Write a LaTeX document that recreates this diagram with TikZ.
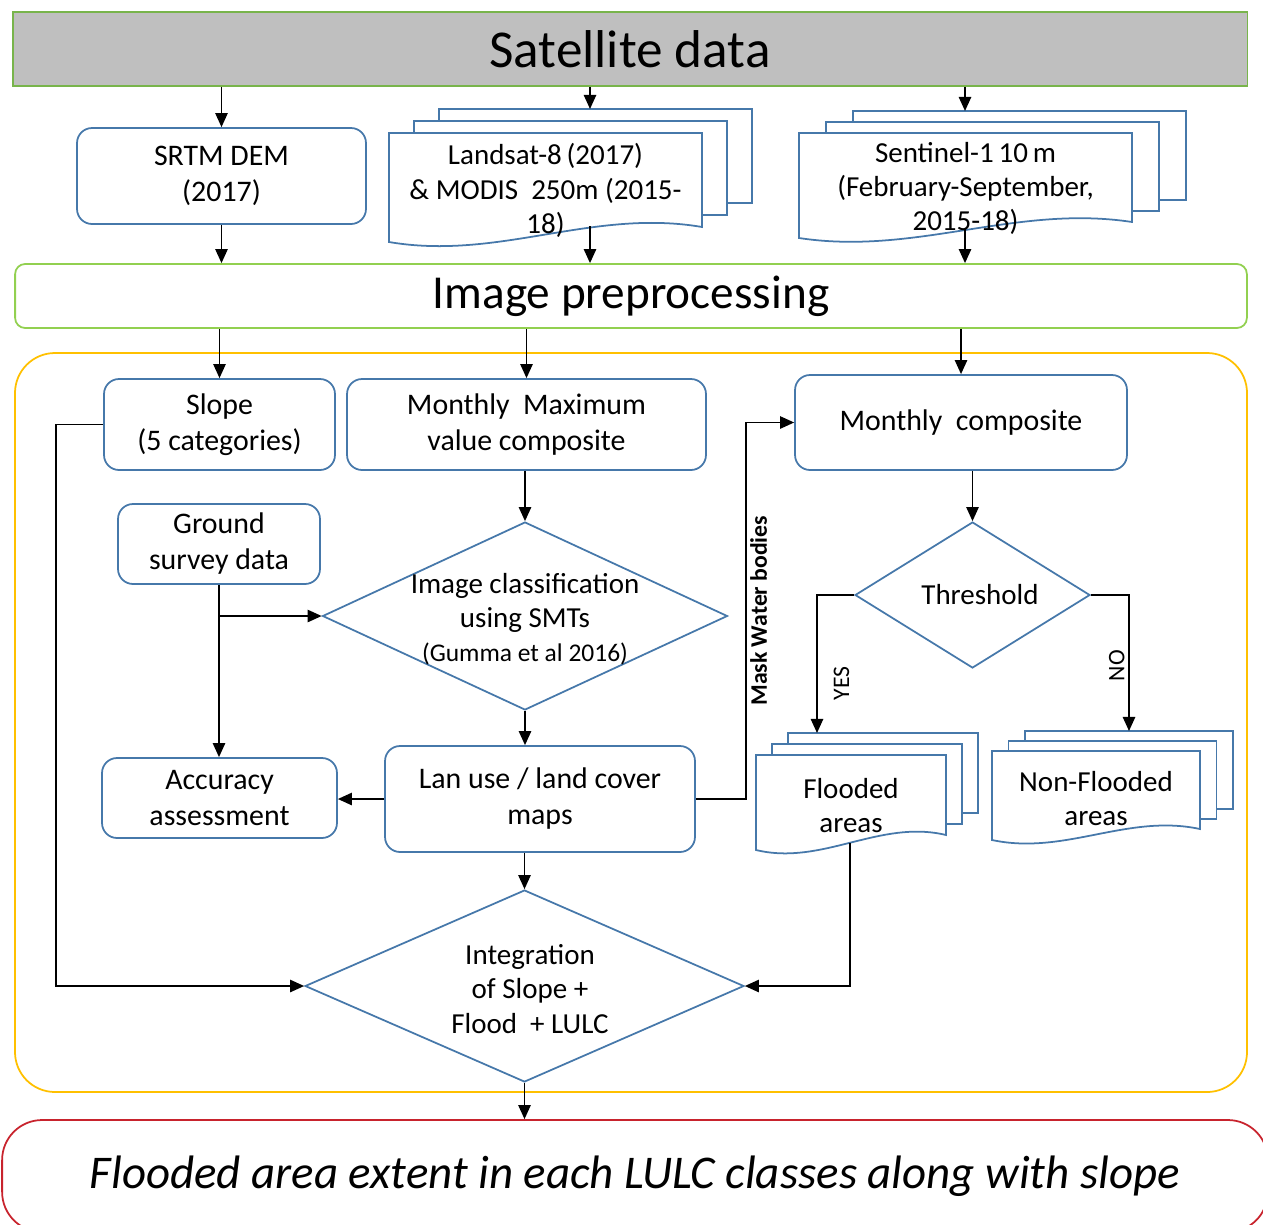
\documentclass[tikz,border=0pt]{standalone}
\usepackage{fontspec}
\setmainfont{Carlito}
\usetikzlibrary{positioning,shapes.geometric,arrows.meta,calc}

\definecolor{boxblue}{RGB}{70,120,170}
\definecolor{satgreen}{RGB}{120,180,75}
\definecolor{satgray}{RGB}{191,191,191}
\definecolor{prepgreen}{RGB}{146,208,80}
\definecolor{frameyellow}{RGB}{255,192,0}
\definecolor{finalred}{RGB}{200,35,45}

% stack of three sheets: name, x1, y1, x2, y2 (right bottom), drop, dx, dy, text
\newcommand{\docstack}[9]{%
  \draw[sheet] ({#2+2*#7},{#3+2*#8}) rectangle ({#4+2*#7},{#5+2*#8});
  \draw[sheet] ({#2+#7},{#3+#8}) rectangle ({#4+#7},{#5+#8});
  \draw[sheet] (#2,#3) -- (#4,#3) -- (#4,#5)
    .. controls ({#4-0.35*(#4-#2)},{#5-0.2*(#5-#3)}) and ({#2+0.35*(#4-#2)},{#5+#6+0.2*(#5-#3)}) .. (#2,{#5+#6}) -- cycle;
  \node[doctext] (#1) at ({(#2+#4)/2},{(#3+#5+#6)/2+3}) {#9};
}

\begin{document}
\begin{tikzpicture}[
    x=0.02cm, y=-0.02cm,
    line width=1pt,
    satbox/.style={rectangle, draw=satgreen, fill=satgray, minimum width=24.7cm, minimum height=1.48cm, font=\fontsize{30.3}{35}\selectfont},
    prepbox/.style={rectangle, draw=prepgreen, rounded corners=0.2cm, minimum width=24.64cm, minimum height=1.28cm, font=\fontsize{26.9}{31}\selectfont},
    blkbox/.style={rectangle, draw=boxblue, rounded corners=0.3cm, align=center, inner sep=0pt, font=\fontsize{17}{20.5}\selectfont},
    decision/.style={diamond, draw=boxblue, inner sep=0pt},
    dectext/.style={align=center, font=\fontsize{16.5}{19.5}\selectfont},
    sheet/.style={draw=boxblue, fill=white},
    doctext/.style={align=center, font=\fontsize{16.5}{19.5}\selectfont},
    finalbox/.style={rectangle, draw=finalred, rounded corners=0.8cm, minimum width=25.32cm, minimum height=2.24cm, font=\fontsize{26.7}{31}\selectfont\itshape},
    lbl/.style={font=\fontsize{13.5}{16}\selectfont},
    arrow/.style={-{Triangle[length=8pt,width=7pt]}, black}
]
    \useasboundingbox (0,0) rectangle (1263,1224);

    % sources
    \node[satbox] (sat) at (630,49) {Satellite data};
    \node[blkbox, minimum width=5.78cm, minimum height=1.92cm] (srtm) at (221.5,176) {SRTM DEM\\(2017)};
    \docstack{landsat}{389}{133}{702}{227}{15}{25}{-12}{Landsat-8\,(2017)\\\& MODIS~~250m (2015-\\18)}
    \docstack{sentinel}{799}{133}{1132}{222}{16}{27}{-11}{Sentinel-1\,10\,m\\(February-September,\\2015-18)}
    \coordinate (landsat-in) at (590,109);
    \coordinate (landsat-out) at (590,226);
    \coordinate (sentinel-in) at (965,111);
    \coordinate (sentinel-out) at (965,229);

    \node[prepbox] (prep) at (631,296) {Image preprocessing};

    % processing frame
    \draw[frameyellow, rounded corners=0.8cm] (15,353) rectangle (1247,1092);

    \node[blkbox, minimum width=4.62cm, minimum height=1.82cm] (slope) at (219.5,424.5) {Slope\\(5 categories)};
    \node[blkbox, minimum width=7.18cm, minimum height=1.82cm] (mmax) at (526.5,424.5) {Monthly~ Maximum\\value composite};
    \node[blkbox, minimum width=6.64cm, minimum height=1.9cm] (mcomp) at (961,422.5) {Monthly~ composite};
    \node[blkbox, minimum width=4.04cm, minimum height=1.6cm] (ground) at (219,544) {Ground\\survey data};

    \node[decision, minimum width=8.1cm, minimum height=3.76cm] (classif) at (525,616) {};
    \node[dectext] (classif-txt) at (525,619) {Image classification\\using SMTs\\{\fontsize{14.5}{17}\selectfont (Gumma et al 2016)}};
    \node[decision, minimum width=4.7cm, minimum height=2.92cm] (thr) at (972.5,595) {};
    \node[dectext] (thr-txt) at (980,595) {Threshold};

    \node[blkbox, minimum width=4.7cm, minimum height=1.6cm] (acc) at (219.5,798) {Accuracy\\assessment};
    \node[blkbox, minimum width=6.2cm, minimum height=2.12cm] (lulc) at (540,799) {Lan use / land cover\\maps};

    \docstack{flooded}{756}{755}{946}{835}{15}{16}{-11}{Flooded\\areas}
    \docstack{nonflooded}{992}{751}{1200}{829}{11}{16.5}{-10}{Non-Flooded\\areas}
    \coordinate (flooded-in) at (817,733);
    \coordinate (flooded-out) at (850,843);
    \coordinate (nonflooded-in) at (1129,731);

    \node[decision, minimum width=8.78cm, minimum height=3.84cm] (integ) at (524.5,986) {};
    \node[dectext] (integ-txt) at (530,989) {Integration\\of Slope +\\Flood~ + LULC};

    \node[finalbox] (final) at (635,1176) {Flooded area extent in each LULC classes along with slope};

    % connectors
    \draw[arrow] (sat.south -| srtm.north) -- (srtm.north);
    \draw[arrow] (sat.south -| landsat-in) -- (landsat-in);
    \draw[arrow] (sat.south -| sentinel-in) -- (sentinel-in);
    \draw[arrow] (srtm.south) -- (srtm.south |- prep.north);
    \draw[arrow] (landsat-out) -- (landsat-out |- prep.north);
    \draw[arrow] (sentinel-out) -- (sentinel-out |- prep.north);
    \draw[arrow] (prep.south -| slope.north) -- (slope.north);
    \draw[arrow] (prep.south -| mmax.north) -- (mmax.north);
    \draw[arrow] (prep.south -| mcomp.north) -- (mcomp.north);
    \draw[arrow] (mmax.south -| classif.north) -- (classif.north);
    \draw[arrow] (ground.south) -- (ground.south |- acc.north);
    \draw[arrow] (ground.south |- classif.west) -- (classif.west);
    \draw[arrow] (classif.south) -- (classif.south |- lulc.north);
    \draw[arrow] (lulc.west) -- (lulc.west -| acc.east);
    \draw[arrow] (lulc.east) -- ++(50,0) |- (mcomp.west)
        node[pos=0.25, rotate=90, anchor=north, inner sep=2pt, font=\fontsize{13.5}{16}\selectfont\bfseries] {Mask Water bodies};
    \draw[arrow] (thr.north |- mcomp.south) -- (thr.north);
    \draw[arrow] (thr.west) -| (flooded-in)
        node[pos=0.82, rotate=90, anchor=north, inner sep=9pt, lbl] {YES};
    \draw[arrow] (thr.east) -| (nonflooded-in)
        node[pos=0.76, rotate=90, anchor=south, inner sep=2pt, lbl] {NO};
    \draw[arrow] (slope.west) -- ++(-47,0) |- (integ.west);
    \draw[arrow] (integ.north |- lulc.south) -- (integ.north);
    \draw[arrow] (flooded-out) |- (integ.east);
    \draw[arrow] (integ.south) -- (integ.south |- final.north);
\end{tikzpicture}
\end{document}
